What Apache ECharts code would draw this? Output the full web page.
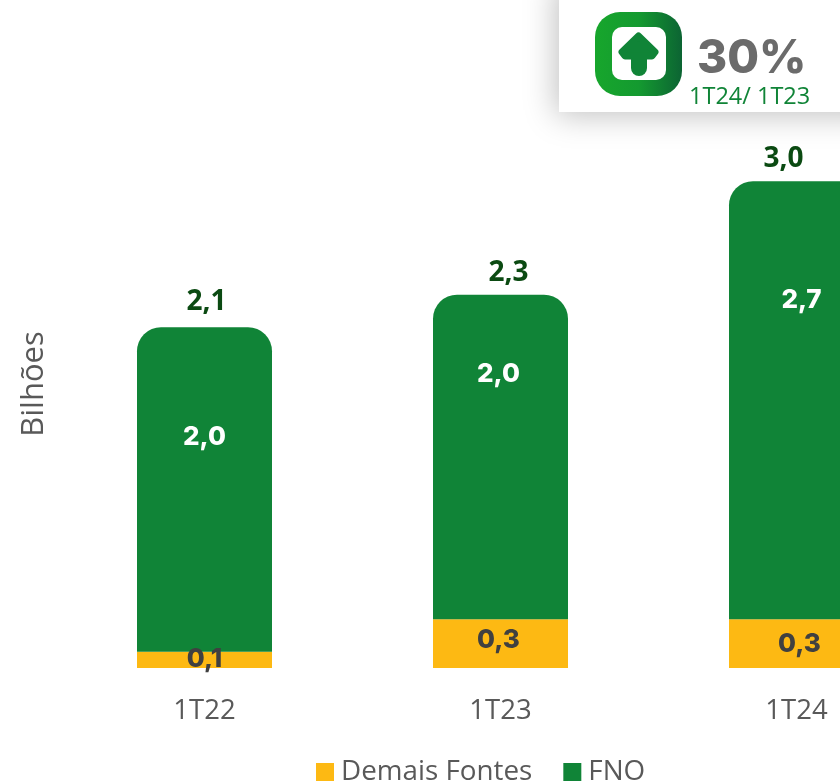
<!DOCTYPE html>
<html><head><meta charset="utf-8">
<style>html,body{margin:0;padding:0;background:#fff}#c{width:840px;height:783px}</style>
<script src="https://cdn.jsdelivr.net/npm/echarts@6/dist/echarts.min.js"></script>
</head><body><div id="c"></div>
<script>
const categories = ['1T22', '1T23', '1T24'];
const demaisFontes = [0.1, 0.3, 0.3];
const fno = [2.0, 2.0, 2.7];
const totals = [2.1, 2.3, 3.0];
const tickFont = '"Open Sans"';
const comma = v => v.toFixed(1).replace('.', ',');
const offsetsDemais = [[0,-1],[-2,-3],[3,1]];
const offsetsFno = [[0,-52],[-2,-83],[5,-100]];
const offsetsTotal = [[2,-3],[8,1],[-13,0]];
const withOffset = (vals, offs) => vals.map((v,i)=>({value:v,label:{offset:offs[i]}}));
const chart = echarts.init(document.getElementById('c'), null, {renderer:'canvas'});
chart.setOption({
  animation:false,
  backgroundColor:'#fff',
  grid:{left:56.5,top:100,width:888,height:568,outerBoundsMode:'none',containLabel:false},
  legend:{
    left:316,top:758,padding:0,itemWidth:18,itemHeight:18,itemGap:31,icon:'rect',
    data:['Demais Fontes','FNO'],
    textStyle:{fontFamily:tickFont,fontSize:27.8,color:'#595959',padding:[0,0,0,2]}
  },
  xAxis:{type:'category',data:categories,
    axisLine:{show:false},axisTick:{show:false},
    axisLabel:{fontFamily:tickFont,fontSize:27.5,color:'#595959',margin:29}},
  yAxis:{type:'value',min:0,max:3.5,interval:0.5,
    name:'Bilhões',nameLocation:'middle',nameGap:7,nameRotate:90,
    nameTextStyle:{fontFamily:tickFont,fontSize:31,color:'#595959'},
    axisLine:{show:false},axisTick:{show:false},axisLabel:{show:false},splitLine:{show:false}},
  series:[
    {name:'Demais Fontes',type:'bar',stack:'t',barWidth:135,
     itemStyle:{color:'#FDB913'},
     data:withOffset(demaisFontes,offsetsDemais),
     label:{show:true,position:'inside',formatter:p=>comma(p.value),
       fontFamily:'Inter',fontWeight:800,fontSize:26,color:'#404040'}},
    {name:'FNO',type:'bar',stack:'t',barWidth:135,
     itemStyle:{color:'#108437',borderRadius:[24,24,0,0]},
     data:withOffset(fno,offsetsFno),
     label:{show:true,position:'inside',formatter:p=>comma(p.value),
       fontFamily:'Inter',fontWeight:800,fontSize:26,color:'#fff'}},
    {name:'Total',type:'line',data:withOffset(totals,offsetsTotal),
     symbol:'circle',symbolSize:1,itemStyle:{color:'transparent'},lineStyle:{width:0,opacity:0},silent:true,z:5,clip:false,
     label:{show:true,position:'top',distance:8,formatter:p=>comma(p.value),
       fontFamily:'Open Sans',fontWeight:'bold',fontSize:28,color:'#0B4A12'}}
  ],
  graphic:[
    {type:'rect',z:10,shape:{x:559,y:-20,width:320,height:132},
     style:{fill:'#fff',shadowBlur:30,shadowColor:'rgba(0,0,0,0.25)',shadowOffsetX:-3,shadowOffsetY:3}},
    {type:'rect',z:11,shape:{x:595,y:12,width:87,height:84,r:25},
     style:{fill:new echarts.graphic.LinearGradient(0,0,1,0,[{offset:0,color:'#17A62C'},{offset:0.5,color:'#149A30'},{offset:1,color:'#0C6433'}])}},
    {type:'rect',z:12,shape:{x:612,y:27,width:54,height:53,r:10},style:{fill:'#fff'}},
    {type:'polygon',z:13,shape:{points:[[638.5,36],[622,52],[625,56],[652,56],[655,52]]},
     style:{fill:'#108437',stroke:'#108437',lineWidth:7,lineJoin:'round'}},
    {type:'rect',z:13,shape:{x:631,y:55,width:16,height:21,r:[0,0,8,8]},style:{fill:'#108437'}},
    {type:'text',z:14,x:697,y:36,style:{text:'30%',fontFamily:'Inter',fontWeight:800,fontSize:46,fill:'#6B6B6B'}},
    {type:'text',z:14,x:689,y:85,style:{text:'1T24/ 1T23',fontFamily:'Open Sans',fontSize:23.5,fill:'#108437'}}
  ]
});
</script></body></html>
